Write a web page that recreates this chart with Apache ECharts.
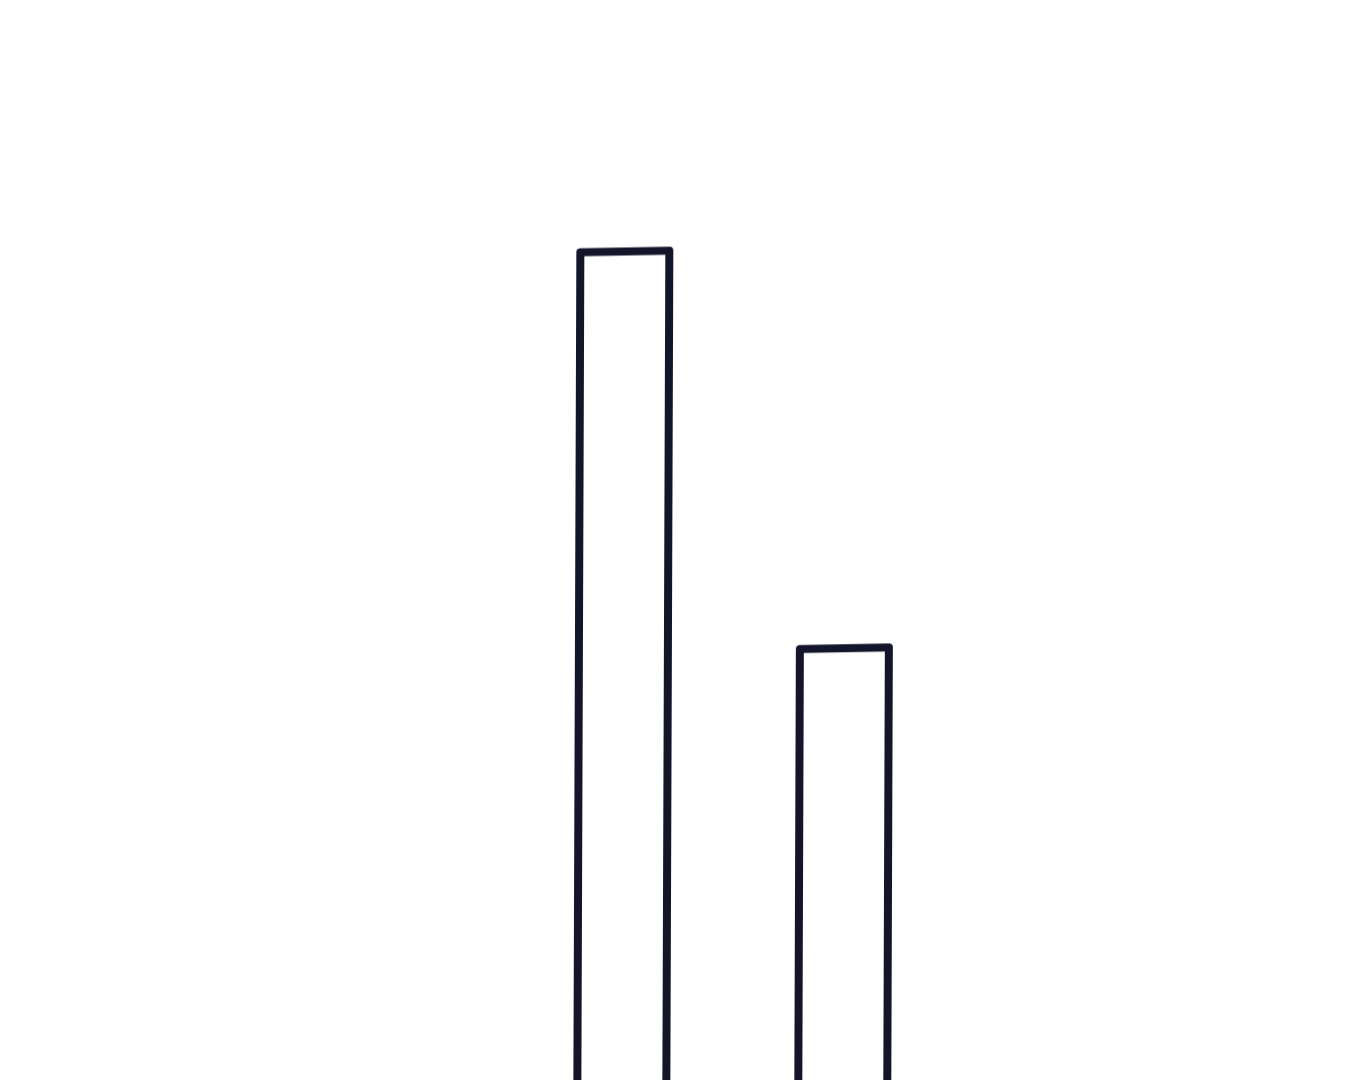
<!DOCTYPE html>
<html>
<head>
<meta charset="utf-8">
<script src="https://cdn.jsdelivr.net/npm/echarts@6/dist/echarts.min.js"></script>
<style>
html,body{margin:0;padding:0;background:#fff;overflow:hidden;width:1368px;height:1080px;}
#chart{width:1368px;height:1120px;transform-origin:734px 650px;transform:matrix(1,-0.018,-0.0036,1,0,0);}
</style>
</head>
<body>
<div id="chart"></div>
<script>
const categories = ['A', 'B'];
const values = [81.9, 44.8];

const chart = echarts.init(document.getElementById('chart'), null, {renderer: 'canvas'});
chart.setOption({
  animation: false,
  backgroundColor: 'transparent',
  grid: {left: 513, width: 442, top: 50, height: 1080, containLabel: false, outerBoundsMode: 'none'},
  xAxis: {type: 'category', data: categories, show: false},
  yAxis: {type: 'value', min: 0, max: 100, show: false},
  series: [{
    type: 'bar',
    data: values,
    barWidth: 97,
    clip: false,
    itemStyle: {color: '#ffffff', borderColor: '#14142b', borderWidth: 8, borderJoin: 'round'},
    silent: true
  }]
});
</script>
</body>
</html>
